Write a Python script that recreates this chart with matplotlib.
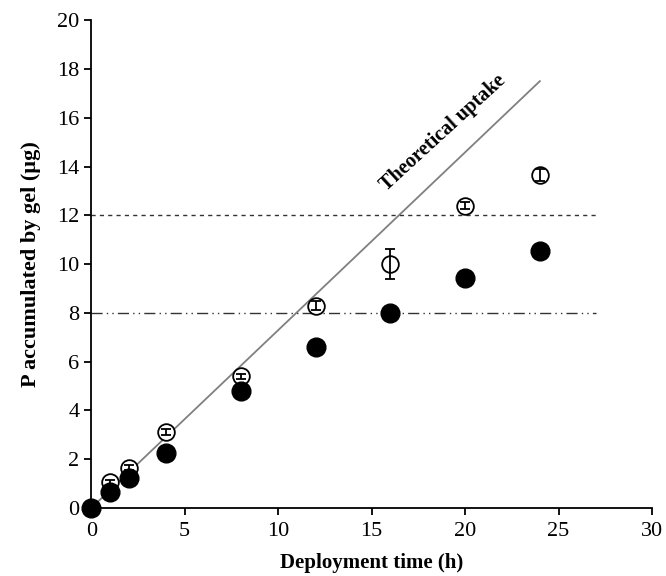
import numpy as np
import matplotlib.pyplot as plt

plt.rcParams['font.family'] = ['Liberation Serif', 'DejaVu Serif']

time_h = [0, 1, 2, 4, 8, 12, 16, 20, 24]
filled_p = [0.0, 0.65, 1.25, 2.25, 4.8, 6.6, 8.0, 9.45, 10.55]
open_t = [1, 2, 4, 8, 12, 16, 20, 24]
open_p = [1.05, 1.65, 3.1, 5.4, 8.3, 10.0, 12.4, 13.65]
open_err = [0.1, 0.1, 0.12, 0.1, 0.18, 0.6, 0.15, 0.25]
theory_t = [0, 24]
theory_p = [0, 17.5]
level_hi = 12
level_lo = 8
level_end = 27

fig = plt.figure(figsize=(6.66, 5.76), dpi=100)
ax = fig.add_axes([0.137, 0.118, 0.842, 0.847])

ax.plot(theory_t, theory_p, color='#808080', lw=1.3, zorder=1)
ax.plot([0, level_end], [level_hi, level_hi], color='#333333', lw=1, ls=(0, (3, 3)))
ax.plot([0, level_end], [level_lo, level_lo], color='#333333', lw=1,
        ls=(0, (8, 3, 1, 3, 1, 3)))

# open circles, error bars drawn on top of the markers
ax.plot(open_t, open_p, 'o', mfc='white', mec='black', ms=12, mew=1.3, zorder=3)
ax.errorbar(open_t, open_p, yerr=open_err, fmt='none', ecolor='black',
            capsize=3.5, elinewidth=1.3, capthick=1.3, zorder=4)
ax.plot(time_h, filled_p, 'o', color='black', ms=13.5, zorder=5)

ax.text(18.8, 15.4, 'Theoretical uptake', rotation=42.5, fontsize=14.5,
        fontweight='bold', ha='center', va='center', rotation_mode='anchor')

ax.set_xlim(0, 30)
ax.set_ylim(0, 20)
ax.set_xticks(range(0, 31, 5))
ax.set_yticks(range(0, 21, 2))
ax.spines['top'].set_visible(False)
ax.spines['right'].set_visible(False)
ax.spines['left'].set_linewidth(1.3)
ax.spines['bottom'].set_linewidth(1.3)
ax.tick_params(labelsize=16, width=1.3, length=5)
ax.tick_params(axis='x', pad=5)
ax.set_xlabel('Deployment time (h)', fontsize=15, fontweight='bold', labelpad=9)
ax.set_ylabel('P accumulated by gel (µg)', fontsize=16, fontweight='bold', labelpad=12)
for art in ax.lines:
    art.set_clip_on(False)

fig.savefig('out.png', dpi=100)
